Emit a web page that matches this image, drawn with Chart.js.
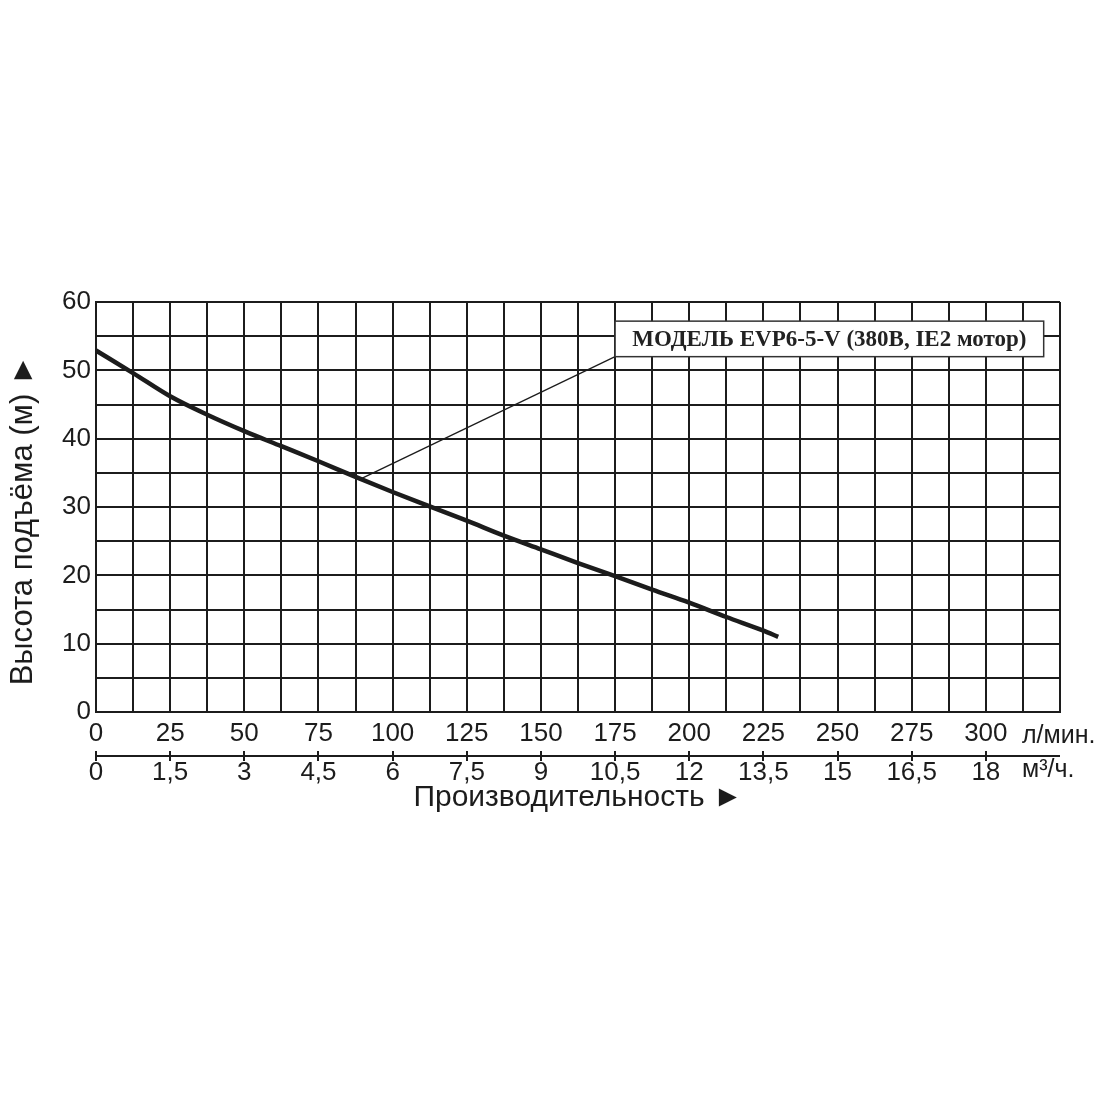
<!DOCTYPE html>
<html>
<head>
<meta charset="utf-8">
<script src="https://cdn.jsdelivr.net/npm/chart.js@4.4.1/dist/chart.umd.min.js"></script>
<style>
html,body{margin:0;padding:0;background:#fff;}
#wrap{width:1100px;height:1100px;}
</style>
</head>
<body>
<div id="wrap"><canvas id="c" width="1100" height="1100"></canvas></div>
<script>
// ---- data ----
const flowLpm  = [0, 12.5, 25, 37.5, 50, 62.5, 75, 87.5, 100, 112.5, 125, 137.5, 150, 162.5, 175, 187.5, 200, 212.5, 225, 230];
const headM    = [52.9, 49.6, 46.2, 43.5, 41.1, 38.9, 36.7, 34.4, 32.2, 30.1, 28.0, 25.8, 23.8, 21.8, 19.9, 17.9, 16.0, 13.9, 11.9, 11.0];
const lpmTicks = [0, 25, 50, 75, 100, 125, 150, 175, 200, 225, 250, 275, 300];
const m3hLabels = ['0', '1,5', '3', '4,5', '6', '7,5', '9', '10,5', '12', '13,5', '15', '16,5', '18'];
const yTicks   = [0, 10, 20, 30, 40, 50, 60];
const modelLabel = 'МОДЕЛЬ EVP6-5-V (380В, IE2 мотор)';
const labelAnchor = {x: 89.6, y: 34.2};      // point on curve where leader starts
const labelBox = {x0: 175, x1: 319.5, yTop: 57.2, yBot: 52.0};
const unitLpm = 'л/мин.';
const unitM3h = 'м³/ч.';

const INK = '#1c1c1c';
const SANS = "'Liberation Sans', Arial, sans-serif";

const annotationPlugin = {
  id: 'annot',
  afterDatasetsDraw(chart) {
    const {ctx, scales: {x, y}} = chart;
    ctx.save();
    const bx0 = x.getPixelForValue(labelBox.x0), bx1 = x.getPixelForValue(labelBox.x1);
    const by0 = y.getPixelForValue(labelBox.yTop), by1 = y.getPixelForValue(labelBox.yBot);
    ctx.strokeStyle = INK; ctx.lineWidth = 1.3;
    ctx.beginPath();
    ctx.moveTo(x.getPixelForValue(labelAnchor.x), y.getPixelForValue(labelAnchor.y));
    ctx.lineTo(bx0, by1);
    ctx.stroke();
    ctx.fillStyle = '#fff';
    ctx.fillRect(bx0, by0, bx1 - bx0, by1 - by0);
    ctx.strokeStyle = '#333'; ctx.lineWidth = 1.5;
    ctx.strokeRect(bx0, by0, bx1 - bx0, by1 - by0);
    ctx.fillStyle = '#222';
    ctx.font = "bold 23px 'Liberation Serif', 'Times New Roman', serif";
    ctx.textBaseline = 'middle'; ctx.textAlign = 'center';
    ctx.fillText(modelLabel, (bx0 + bx1) / 2, (by0 + by1) / 2 + 1);
    ctx.restore();
  },
  afterDraw(chart) {
    const {ctx, chartArea, scales: {x2}} = chart;
    ctx.save();
    const ly = x2.top + 5;
    ctx.strokeStyle = INK; ctx.lineWidth = 2;
    ctx.beginPath();
    ctx.moveTo(x2.left, ly); ctx.lineTo(x2.right, ly);
    ctx.stroke();
    ctx.fillStyle = INK;
    ctx.font = "25px " + SANS;
    ctx.textAlign = 'left'; ctx.textBaseline = 'middle';
    ctx.fillText(unitLpm, chartArea.right - 38, chartArea.bottom + 24);
    ctx.fillText(unitM3h, chartArea.right - 38, x2.top + 19);
    ctx.restore();
  }
};

new Chart(document.getElementById('c'), {
  type: 'line',
  data: {
    datasets: [{
      data: flowLpm.map((v, i) => ({x: v, y: headM[i]})),
      borderColor: INK,
      borderWidth: 4.5,
      pointRadius: 0,
      cubicInterpolationMode: 'monotone',
      fill: false
    }]
  },
  options: {
    responsive: false,
    animation: false,
    devicePixelRatio: 1,
    layout: {padding: {top: 302, right: 40, left: 0, bottom: 284}},
    plugins: {legend: {display: false}, tooltip: {enabled: false}},
    scales: {
      x: {
        type: 'linear', min: 0, max: 325, position: 'bottom', weight: 0,
        ticks: {
          stepSize: 12.5, autoSkip: false, maxRotation: 0, padding: 6,
          color: INK, font: {family: SANS, size: 26},
          callback: (v) => lpmTicks.includes(v) ? String(v) : ''
        },
        grid: {color: INK, lineWidth: 2, drawTicks: false},
        border: {color: INK, width: 2},
        afterFit: (s) => { s.height = 39; }
      },
      x2: {
        type: 'linear', min: 0, max: 325, position: 'bottom', weight: 1,
        afterBuildTicks: (s) => { s.ticks = lpmTicks.map(v => ({value: v})); },
        ticks: {
          autoSkip: false, maxRotation: 0, padding: -4,
          color: INK, font: {family: SANS, size: 26},
          callback: (v, i) => m3hLabels[i]
        },
        grid: {display: true, drawOnChartArea: false, drawTicks: true, tickLength: 10, color: INK, lineWidth: 2},
        border: {display: false},
        title: {display: true, text: 'Производительность ►', color: INK, font: {family: SANS, size: 30}, padding: {top: 0, bottom: 0}},
        afterFit: (s) => { s.height = 65; }
      },
      y: {
        type: 'linear', min: 0, max: 60,
        afterBuildTicks: (s) => {
          const t = [];
          for (let v = 0; v <= 60; v += 5) t.push({value: v});
          s.ticks = t;
        },
        ticks: {
          autoSkip: false, padding: 5, color: INK, font: {family: SANS, size: 26},
          callback: (v) => yTicks.includes(v) ? String(v) : ''
        },
        grid: {color: INK, lineWidth: 2, drawTicks: false},
        border: {color: INK, width: 2},
        title: {display: true, text: 'Высота подъёма (м) ►\u00A0\u00A0\u00A0', color: INK, font: {family: SANS, size: 31}, padding: {top: 5, bottom: 4}},
        afterFit: (s) => { s.width = 96; }
      }
    }
  },
  plugins: [annotationPlugin]
});
</script>
</body>
</html>
